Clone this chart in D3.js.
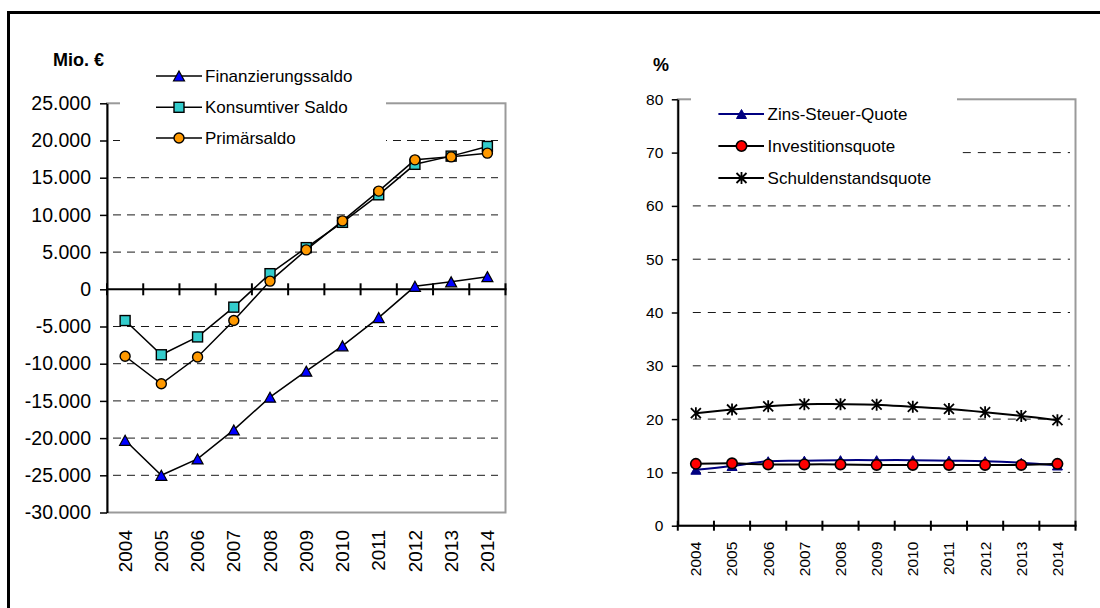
<!DOCTYPE html>
<html>
<head>
<meta charset="utf-8">
<script src="https://cdn.jsdelivr.net/npm/d3@7"></script>
<style>
  body { margin: 0; background: #fff; }
  svg { display: block; }
  text { font-family: "Liberation Sans", Arial, sans-serif; fill: #000; }
</style>
</head>
<body>
<svg id="chart" width="1100" height="608"></svg>
<script>
// ---- data ----
const years = ["2004","2005","2006","2007","2008","2009","2010","2011","2012","2013","2014"];

// left panel: balances in million euro
const finanzierungssaldo = [-20300, -25000, -22800, -18900, -14500, -11000, -7600, -3800, 400, 1000, 1700];
const konsumtiverSaldo   = [-4200, -8800, -6400, -2400, 2100, 5600, 9000, 12700, 16800, 17900, 19200];
const primaersaldo       = [-9000, -12700, -9100, -4200, 1100, 5300, 9200, 13200, 17400, 17800, 18300];
const saldoTicks = [-30000, -25000, -20000, -15000, -10000, -5000, 0, 5000, 10000, 15000, 20000, 25000];

// right panel: ratios in percent
const zinsSteuerQuote     = [10.5, 11.2, 12.1, 12.2, 12.3, 12.3, 12.3, 12.2, 12.1, 11.8, 11.3];
const investitionsquote   = [11.6, 11.7, 11.5, 11.5, 11.5, 11.4, 11.4, 11.4, 11.4, 11.4, 11.6];
const schuldenstandsquote = [21.1, 21.8, 22.4, 22.8, 22.8, 22.7, 22.3, 21.9, 21.3, 20.6, 19.8];
const quoteTicks = [0, 10, 20, 30, 40, 50, 60, 70, 80];

const de = d3.formatLocale({ decimal: ",", thousands: ".", grouping: [3], currency: ["", " €"], minus: "-" });
const fmtSaldo = de.format(",.0f");

const svg = d3.select("#chart");

// ---- outer frame (top and left edges) ----
svg.append("line").attr("x1", 7).attr("x2", 1100).attr("y1", 12.5).attr("y2", 12.5)
  .attr("stroke", "#000").attr("stroke-width", 3);
svg.append("line").attr("x1", 8.5).attr("x2", 8.5).attr("y1", 11).attr("y2", 608)
  .attr("stroke", "#000").attr("stroke-width", 3);

// ---- marker shapes ----
function marker(g, type, x, y, opt) {
  if (type === "triangle") {
    const w = opt.w, h = opt.h;
    g.append("path")
      .attr("d", `M${x},${y - h / 2}L${x + w / 2},${y + h / 2}L${x - w / 2},${y + h / 2}Z`)
      .attr("fill", opt.fill).attr("stroke", opt.stroke).attr("stroke-width", opt.sw);
  } else if (type === "square") {
    g.append("rect").attr("x", x - opt.s / 2).attr("y", y - opt.s / 2)
      .attr("width", opt.s).attr("height", opt.s)
      .attr("fill", opt.fill).attr("stroke", opt.stroke).attr("stroke-width", opt.sw);
  } else if (type === "circle") {
    g.append("circle").attr("cx", x).attr("cy", y).attr("r", opt.r)
      .attr("fill", opt.fill).attr("stroke", opt.stroke).attr("stroke-width", opt.sw);
  } else if (type === "star") {
    const a = opt.a, v = opt.v;
    g.append("path")
      .attr("d", `M${x - a},${y - a}L${x + a},${y + a}M${x - a},${y + a}L${x + a},${y - a}M${x},${y - v}L${x},${y + v}`)
      .attr("fill", "none").attr("stroke", opt.stroke).attr("stroke-width", opt.sw);
  }
}

// ---- generic panel ----
function drawPanel(p) {
  const g = svg.append("g");
  const x = d3.scaleBand().domain(years).range([p.left, p.right]).padding(0);
  const xEdge = d3.scaleLinear().domain([0, years.length]).range([p.left, p.right]);
  const y = d3.scaleLinear().domain(p.domain).range([p.bottom, p.top]);
  const cx = d => x(d) + x.bandwidth() / 2;

  // dashed gridlines
  g.append("g").selectAll("line")
    .data(p.ticks.filter(t => t !== p.domain[0] && t !== p.domain[1] && t !== 0))
    .join("line")
    .attr("x1", p.left + p.gridGap).attr("x2", p.gridEnd)
    .attr("y1", d => y(d)).attr("y2", d => y(d))
    .attr("stroke", "#1a1a1a").attr("stroke-width", 1)
    .attr("stroke-dasharray", p.dash);

  // plot-area border (grey)
  g.append("rect")
    .attr("x", p.left).attr("y", y(p.domain[1]))
    .attr("width", p.right - p.left).attr("height", y(p.domain[0]) - y(p.domain[1]))
    .attr("fill", "none").attr("stroke", "#9a9a9a").attr("stroke-width", 2);

  // legend background
  g.append("rect")
    .attr("x", p.legend.box[0]).attr("y", p.legend.box[1])
    .attr("width", p.legend.box[2]).attr("height", p.legend.box[3])
    .attr("fill", "#fff");

  // value axis
  const yAxis = d3.axisLeft(y).tickValues(p.ticks).tickFormat(p.fmt)
    .tickSizeInner(p.ytick).tickSizeOuter(0).tickPadding(p.yPad);
  const ya = g.append("g").attr("transform", `translate(${p.left},0)`).call(yAxis);
  ya.select(".domain").attr("stroke", "#000").attr("stroke-width", 2);
  ya.selectAll(".tick line").attr("stroke", "#000").attr("stroke-width", 1.5);
  ya.selectAll(".tick text").attr("font-size", p.yFont + "px")
    .attr("font-family", '"Liberation Sans", Arial, sans-serif').attr("fill", "#000");

  // category axis line at zero with crossing tick marks at band edges
  const zeroY = y(0);
  g.append("line").attr("x1", p.left - 1).attr("x2", p.right + 1)
    .attr("y1", zeroY).attr("y2", zeroY).attr("stroke", "#000").attr("stroke-width", 2);
  g.append("g").selectAll("line").data(d3.range(years.length + 1)).join("line")
    .attr("x1", d => xEdge(d)).attr("x2", d => xEdge(d))
    .attr("y1", zeroY - p.xtick).attr("y2", zeroY + p.xtick)
    .attr("stroke", "#000").attr("stroke-width", 2);

  // category labels at the bottom, rotated
  const xAxis = d3.axisBottom(x).tickSize(0).tickPadding(0);
  const xa = g.append("g").attr("transform", `translate(0,${y(p.domain[0])})`).call(xAxis);
  xa.select(".domain").remove();
  xa.selectAll(".tick text")
    .attr("font-size", p.xFont + "px")
    .attr("font-family", '"Liberation Sans", Arial, sans-serif').attr("fill", "#000")
    .attr("transform", "rotate(-90)")
    .attr("text-anchor", "end")
    .attr("x", -p.xLabelOff).attr("y", 0).attr("dy", "0.35em");

  // unit label
  g.append("text").attr("x", p.unit.x).attr("y", p.unit.y)
    .attr("font-size", p.unit.size + "px").attr("font-weight", "bold").text(p.unit.text);

  // series
  p.series.forEach(s => {
    const line = d3.line().x((d, i) => cx(years[i])).y(d => y(d)).curve(s.curve || d3.curveLinear);
    g.append("path").datum(s.values).attr("d", line)
      .attr("fill", "none").attr("stroke", s.lineColor).attr("stroke-width", s.lineWidth);
    const mg = g.append("g");
    s.values.forEach((v, i) => marker(mg, s.marker, cx(years[i]), y(v), s.mopt));
  });

  // legend entries
  p.series.forEach((s, i) => {
    const ly = p.legend.rows[i];
    g.append("line").attr("x1", p.legend.lx[0]).attr("x2", p.legend.lx[1])
      .attr("y1", ly).attr("y2", ly).attr("stroke", s.lineColor).attr("stroke-width", s.lineWidth);
    marker(g, s.marker, p.legend.mx, ly, s.mopt);
    g.append("text").attr("x", p.legend.tx).attr("y", ly).attr("dy", "0.35em")
      .attr("font-size", p.legend.font + "px").text(s.name);
  });
}

// ---- left panel: Salden ----
drawPanel({
  left: 107, right: 505.5, top: 103.3, bottom: 512.5,
  domain: [-30000, 25000], ticks: saldoTicks, fmt: fmtSaldo,
  yFont: 19.5, xFont: 19, ytick: 7, yPad: 9, xtick: 6, xLabelOff: 17.5,
  gridGap: 6, gridEnd: 498, dash: "8,6",
  unit: { x: 53, y: 66, size: 18, text: "Mio. €" },
  legend: { box: [120, 55, 266, 95], rows: [76, 107.3, 138], lx: [156, 202], mx: 179, tx: 205, font: 17 },
  series: [
    { name: "Finanzierungssaldo", values: finanzierungssaldo, lineColor: "#000", lineWidth: 1.5,
      marker: "triangle", mopt: { w: 11, h: 10, fill: "#0000ff", stroke: "#000", sw: 1.2 } },
    { name: "Konsumtiver Saldo", values: konsumtiverSaldo, lineColor: "#000", lineWidth: 1.5,
      marker: "square", mopt: { s: 10, fill: "#33cccc", stroke: "#000", sw: 1.4 } },
    { name: "Primärsaldo", values: primaersaldo, lineColor: "#000", lineWidth: 1.5,
      marker: "circle", mopt: { r: 5, fill: "#ff9900", stroke: "#000", sw: 1.4 } }
  ]
});

// ---- right panel: Quoten ----
drawPanel({
  left: 677.8, right: 1075.5, top: 99.3, bottom: 525.7,
  domain: [0, 80], ticks: quoteTicks, fmt: d3.format("d"),
  yFont: 15.5, xFont: 15.5, ytick: 6, yPad: 8.5, xtick: 5, xLabelOff: 16,
  gridGap: 15, gridEnd: 1070, dash: "8,7",
  unit: { x: 653, y: 71, size: 18, text: "%" },
  legend: { box: [691, 85, 266, 105], rows: [114, 146, 178], lx: [718.4, 764], mx: 741.5, tx: 767.6, font: 17 },
  series: [
    { name: "Zins-Steuer-Quote", values: zinsSteuerQuote, lineColor: "#000080", lineWidth: 2,
      curve: d3.curveCatmullRom, marker: "triangle", mopt: { w: 10, h: 9, fill: "#000080", stroke: "#000080", sw: 1 } },
    { name: "Investitionsquote", values: investitionsquote, lineColor: "#000", lineWidth: 2,
      curve: d3.curveCatmullRom, marker: "circle", mopt: { r: 5.2, fill: "#ff0000", stroke: "#000", sw: 1.6 } },
    { name: "Schuldenstandsquote", values: schuldenstandsquote, lineColor: "#000", lineWidth: 2,
      curve: d3.curveCatmullRom, marker: "star", mopt: { a: 5, v: 6, stroke: "#000", sw: 1.8 } }
  ]
});
</script>
</body>
</html>
